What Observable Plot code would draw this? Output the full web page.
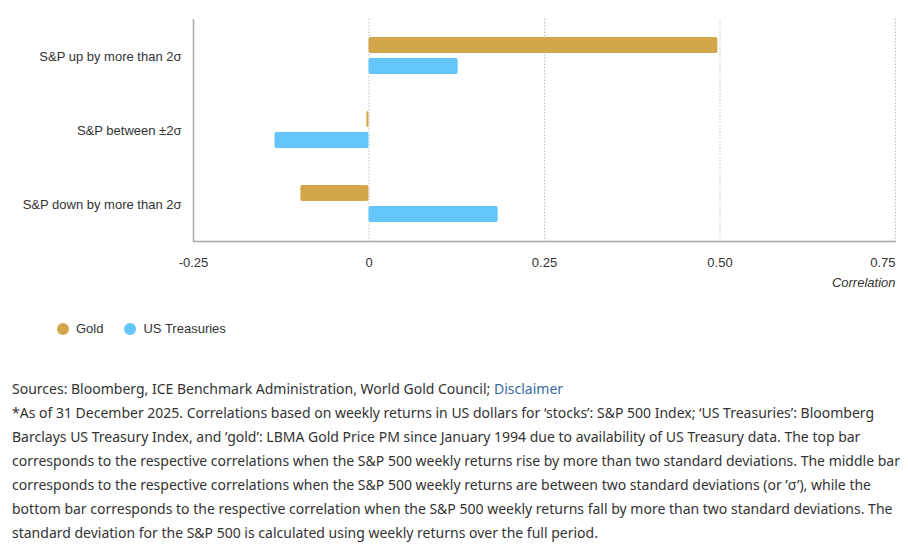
<!DOCTYPE html>
<html>
<head>
<meta charset="utf-8">
<script src="https://cdn.jsdelivr.net/npm/d3@7"></script>
<script src="https://cdn.jsdelivr.net/npm/@observablehq/plot@0.6"></script>
<style>
  body { margin: 0; background: #fff; width: 908px; height: 556px; position: relative; overflow: hidden; }
  #chart { position: absolute; left: 0; top: 0; }
  #legend { position: absolute; left: 57px; top: 321px; font: 13px "Liberation Sans", Arial, sans-serif; color: #333; display: flex; align-items: center; }
  #legend .item { display: flex; align-items: center; margin-right: 21px; }
  #legend .dot { width: 12px; height: 12px; border-radius: 50%; margin-right: 7px; display: inline-block; }
  #notes { position: absolute; left: 12px; top: 377px; font: 14px "Noto Sans", sans-serif; color: #333; line-height: 24px; white-space: nowrap; }
  #notes a { color: #3a6a9b; text-decoration: none; }
</style>
</head>
<body>
<div id="chart"></div>
<div id="legend"></div>
<div id="notes">
Sources: Bloomberg, ICE Benchmark Administration, World Gold Council; <a href="#">Disclaimer</a><br>
*As of 31 December 2025. Correlations based on weekly returns in US dollars for ‘stocks’: S&amp;P 500 Index; ‘US Treasuries’: Bloomberg<br>
Barclays US Treasury Index, and ’gold’: LBMA Gold Price PM since January 1994 due to availability of US Treasury data. The top bar<br>
corresponds to the respective correlations when the S&amp;P 500 weekly returns rise by more than two standard deviations. The middle bar<br>
corresponds to the respective correlations when the S&amp;P 500 weekly returns are between two standard deviations (or ’σ’), while the<br>
bottom bar corresponds to the respective correlation when the S&amp;P 500 weekly returns fall by more than two standard deviations. The<br>
standard deviation for the S&amp;P 500 is calculated using weekly returns over the full period.
</div>
<script>
const categories = ["S&P up by more than 2σ", "S&P between ±2σ", "S&P down by more than 2σ"];
const series = ["Gold", "US Treasuries"];
const goldValues = [0.497, -0.003, -0.097];
const treasuryValues = [0.127, -0.134, 0.184];
const seriesColors = ["#D4A64B", "#63C5F9"];
const xTicks = [-0.25, 0, 0.25, 0.5, 0.75];
const xTitle = "Correlation";

const rows = [];
categories.forEach((c, i) => {
  rows.push({category: c, series: series[0], value: goldValues[i]});
  rows.push({category: c, series: series[1], value: treasuryValues[i]});
});

const fmt = d => d === 0 ? "0" : d.toFixed(2);

const chart = Plot.plot({
  width: 908,
  height: 300,
  marginTop: 18,
  marginBottom: 59,
  marginLeft: 193,
  marginRight: 13,
  style: {fontFamily: "'Liberation Sans', Arial, sans-serif", fontSize: "13px", color: "#333", background: "#fff"},
  x: {domain: [xTicks[0], xTicks[xTicks.length - 1]], axis: null},
  y: {domain: series, paddingInner: 0.23, paddingOuter: 0.8, axis: null},
  fy: {domain: categories, padding: 0, label: null},
  color: {domain: series, range: seriesColors},
  marks: [
    Plot.ruleX(xTicks.slice(1), {stroke: "#b5b5b5", strokeDasharray: "1.2,2", strokeWidth: 1}),
    Plot.barX(rows, {x: "value", y: "series", fy: "category", fill: "series", rx: 2}),
    Plot.ruleX([xTicks[0]], {stroke: "#a8a8a8", strokeWidth: 1.5}),
    Plot.frame({anchor: "bottom", facetAnchor: "bottom", stroke: "#a8a8a8", strokeWidth: 1.5}),
    Plot.axisFy({anchor: "left", tickSize: 0, tickPadding: 12, label: null, fontSize: 13, fill: "#333"}),
    Plot.axisX(xTicks.slice(0, -1), {anchor: "bottom", tickSize: 0, tickPadding: 16, tickFormat: fmt, label: null, fontSize: 13, fill: "#333"}),
    Plot.axisX(xTicks.slice(-1), {anchor: "bottom", tickSize: 0, tickPadding: 16, tickFormat: fmt, label: null, fontSize: 13, textAnchor: "end", fill: "#333"}),
    Plot.text([xTitle], {frameAnchor: "bottom-right", facetAnchor: "bottom", dy: 45, textAnchor: "end", fontSize: 13, fontStyle: "italic", fill: "#333"})
  ]
});
document.getElementById("chart").appendChild(chart);

const legend = document.getElementById("legend");
series.forEach((s, i) => {
  const item = document.createElement("span");
  item.className = "item";
  const dot = document.createElement("span");
  dot.className = "dot";
  dot.style.background = seriesColors[i];
  item.appendChild(dot);
  item.appendChild(document.createTextNode(s));
  legend.appendChild(item);
});
</script>
</body>
</html>
